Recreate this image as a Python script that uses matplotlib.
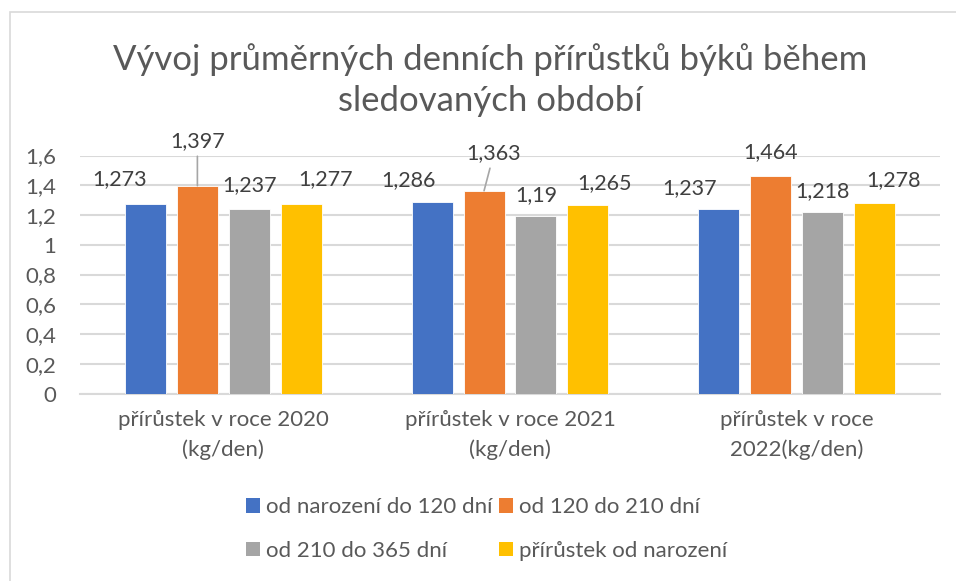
import numpy as np
from matplotlib import pyplot as plt
from matplotlib.patches import Patch, Rectangle

plt.rcParams['font.family'] = ['Lato', 'DejaVu Sans']

# data
kategorie = ['přírůstek v roce 2020\n(kg/den)', 'přírůstek v roce 2021\n(kg/den)', 'přírůstek v roce\n2022(kg/den)']
serie = ['od narození do 120 dní', 'od 120 do 210 dní', 'od 210 do 365 dní', 'přírůstek od narození']
do_120 = [1.273, 1.286, 1.237]
od_120_do_210 = [1.397, 1.363, 1.464]
od_210_do_365 = [1.237, 1.19, 1.218]
od_narozeni = [1.277, 1.265, 1.278]
barvy = ['#4472C4', '#ED7D31', '#A5A5A5', '#FFC000']

hodnoty = [do_120, od_120_do_210, od_210_do_365, od_narozeni]

# posun popisku (px) proti vrcholu sloupce, jako v Excelu
posuny = [
    [(-26, 25), (-24, 22), (-29, 21)],
    [(0, 45), (10, 38), (0, 24)],
    [(0, 24), (0, 21), (0, 21)],
    [(24, 24), (17, 22), (19, 23)],
]
odkaz = [[False, False, False], [True, True, False], [False] * 3, [False] * 3]

fig = plt.figure(figsize=(9.56, 5.81), dpi=100)
fig.patches.append(Rectangle((10 / 956, -0.1), 1.1, 1 - 12 / 581 + 0.1, transform=fig.transFigure,
                             fill=False, edgecolor='#d9d9d9', linewidth=1.2))

ax = fig.add_axes([80 / 956, (581 - 393.5) / 581, 860 / 956, 238 / 581])
x = np.arange(len(kategorie))
krok = 0.181
sirka = 0.143
for i, vals in enumerate(hodnoty):
    pos = x + (i - 1.5) * krok
    ax.bar(pos, vals, sirka, color=barvy[i], edgecolor='white', linewidth=0.6, zorder=3)
    for j, v in enumerate(vals):
        lab = ('%g' % v).replace('.', ',')
        dx, dy = posuny[i][j]
        ap = dict(arrowstyle='-', color='#a6a6a6', lw=1.2, shrinkA=2, shrinkB=0) if odkaz[i][j] else None
        ax.annotate(lab, (pos[j], v), xytext=(dx, dy), textcoords='offset pixels',
                    ha='center', va='center', fontsize=15.5, color='#404040',
                    arrowprops=ap, zorder=4)

ax.set_xlim(-0.5, 2.5)
ax.set_ylim(0, 1.6)
ax.set_yticks(np.arange(0, 1.61, 0.2))
ax.set_yticklabels(['0', '0,2', '0,4', '0,6', '0,8', '1', '1,2', '1,4', '1,6'])
ax.set_xticks(x)
ax.set_xticklabels(kategorie, linespacing=1.55)
ax.tick_params(axis='both', length=0, labelsize=16, labelcolor='#595959')
ax.tick_params(axis='y', pad=17)
ax.tick_params(axis='x', pad=12)
ax.grid(axis='y', color='#d9d9d9', linewidth=1.5, zorder=0)
for s in ['top', 'right', 'left']:
    ax.spines[s].set_visible(False)
ax.spines['bottom'].set_color('#d9d9d9')
ax.spines['bottom'].set_linewidth(1.5)

fig.text(0.513, 1 - 80 / 581, 'Vývoj průměrných denních přírůstků býků během\nsledovaných období',
         ha='center', va='center', fontsize=25, color='#595959', linespacing=1.35)

# Excel plni legendu po radcich, matplotlib po sloupcich
poradi = [0, 2, 1, 3]
handles = [Patch(facecolor=barvy[k]) for k in poradi]
fig.legend(handles, [serie[k] for k in poradi], loc='center', bbox_to_anchor=(487 / 956, 1 - 529 / 581), ncol=2,
           frameon=False, fontsize=16, labelcolor='#595959', handlelength=0.6, handleheight=0.6,
           handletextpad=0.3, columnspacing=0.3, labelspacing=1.05)

plt.savefig('out.png', dpi=100)
